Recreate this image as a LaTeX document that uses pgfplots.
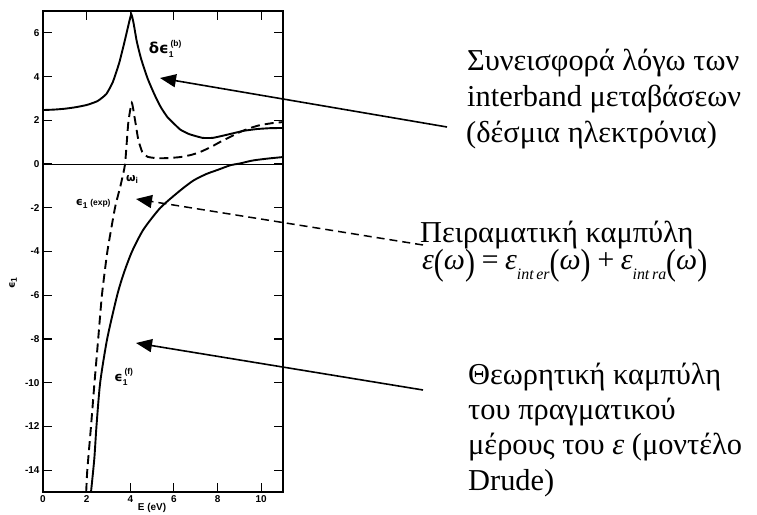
\documentclass[border=0pt]{standalone}
\usepackage{fontspec}
\setmainfont{Liberation Serif}
\newfontfamily\labfont{Liberation Sans}
\newfontfamily\symfont{DejaVu Sans}
\usepackage{graphicx}
\usepackage{pgfplots}
\pgfplotsset{compat=1.18}
\usetikzlibrary{arrows.meta}

% tall upright parentheses for the formula
\newcommand\lpar{\raisebox{-5bp}{\scalebox{1}[1.22]{\upshape(}}}
\newcommand\rpar{\raisebox{-5bp}{\scalebox{1}[1.22]{\upshape)}}}
\newcommand\sub[1]{\raisebox{-10bp}{\fontsize{16}{16}\selectfont\itshape #1}}
% lettering used inside the plot
\newcommand\lett[1]{{\symfont\bfseries #1}}
\newcommand\sm[1]{{\labfont\bfseries\fontsize{8.5}{8.5}\selectfont #1}}

\begin{document}
\begin{tikzpicture}
\path[use as bounding box] (0,0) rectangle (757bp,515bp);
\begin{axis}[
  at={(43bp,23bp)}, anchor=south west,
  scale only axis, width=240bp, height=481bp,
  xmin=0, xmax=11, ymin=-15, ymax=7,
  xtick={0,2,...,10}, ytick={-14,-12,...,6},
  xticklabels={0,2,4,6,8,10},
  yticklabels={-14,-12,-10,-8,-6,-4,-2,0,2,4,6},
  tick align=inside, major tick length=9bp,
  axis line style={line width=1.3bp},
  every tick/.style={line width=1.1bp, black},
  ticklabel style={font=\labfont\fontsize{10}{10}\selectfont\bfseries},
  clip=true,
]
% zero line
\addplot [black, line width=0.8bp] coordinates {(0,0) (11,0)};

% interband contribution, delta eps_1^(b)
\addplot [black, line width=1.9bp, smooth, tension=0.3] coordinates {
 (0,2.47) (0.5,2.49) (1.0,2.53) (1.5,2.6) (2.0,2.7) (2.5,2.88) (2.9,3.2)
 (3.2,3.75) (3.5,4.65) (3.75,5.65) (3.95,6.5) (4.05,6.85) (4.15,6.45)
 (4.3,5.6) (4.5,4.8) (4.8,3.9) (5.1,3.2) (5.4,2.6) (5.7,2.15) (6.0,1.85)
 (6.3,1.57) (6.7,1.37) (7.3,1.2) (7.8,1.2) (8.6,1.38) (9.2,1.52)
 (9.8,1.6) (10.4,1.64) (11,1.65)};

% measured eps_1
\addplot [black, line width=1.9bp, dash pattern=on 9bp off 5bp, smooth, tension=0.3] coordinates {
 (1.98,-15) (2.03,-14) (2.2,-12) (2.36,-10) (2.53,-8) (2.7,-6) (2.95,-4)
 (3.3,-2) (3.55,-1) (3.76,0) (3.91,1.9) (4.07,2.8) (4.22,2.0) (4.37,1.1)
 (4.55,0.55) (4.8,0.33) (5.2,0.27) (5.7,0.27) (6.3,0.32) (6.8,0.42)
 (7.2,0.55) (7.7,0.78) (8.1,1.0) (8.6,1.25) (9.04,1.47) (9.5,1.65)
 (9.95,1.78) (10.5,1.87) (11,1.92)};

% free-electron (Drude) eps_1^(f)
\addplot [black, line width=1.9bp, smooth, tension=0.4] coordinates {
 (2.2,-15) (2.35,-13.5) (2.45,-12) (2.62,-10) (2.94,-8) (3.4,-6) (3.7,-5)
 (4.08,-4) (4.6,-3) (5.38,-2) (6.3,-1.2) (6.9,-0.75) (7.5,-0.45) (8.0,-0.27)
 (8.6,-0.05) (9.0,0.02) (9.6,0.16) (10.3,0.25) (11,0.32)};

\node[font=\fontsize{15}{15}\selectfont, inner sep=0pt] at (axis cs:5.6,5.25)
  {\lett{δϵ}\raisebox{-4bp}{\sm{1}}\hspace{-3pt}\raisebox{7bp}{\sm{(b)}}};
\node[font=\fontsize{11}{11}\selectfont, inner sep=0pt] at (axis cs:4.08,-0.7)
  {\lett{ω}\raisebox{-2bp}{\sm{i}}};
\node[font=\fontsize{11}{11}\selectfont, inner sep=0pt] at (axis cs:2.3,-1.83)
  {\lett{ϵ}\raisebox{-3bp}{\sm{1}} \sm{(exp)}};
\node[font=\fontsize{13}{13}\selectfont, inner sep=0pt] at (axis cs:3.7,-9.75)
  {\lett{ϵ}\raisebox{-4bp}{\sm{1}}\hspace{-3pt}\raisebox{7bp}{\sm{(f)}}};
\end{axis}

% axis titles
\node[font=\labfont\fontsize{10}{10}\selectfont\bfseries] at (152bp,7bp) {E (eV)};
\node[rotate=90, font=\fontsize{10}{10}\selectfont] at (13bp,232bp) {\lett{ϵ}\raisebox{-2bp}{\sm{1}}};

% annotation arrows
\draw[line width=1.6bp, -{Triangle[length=16bp, width=13bp]}] (447bp,388bp) -- (160bp,437bp);
\draw[line width=1.5bp, dash pattern=on 8bp off 5bp, -{Triangle[length=16bp, width=13bp]}] (423bp,270bp) -- (136bp,316bp);
\draw[line width=1.6bp, -{Triangle[length=16bp, width=13bp]}] (423bp,125bp) -- (136bp,172bp);

% annotation texts
\begin{scope}[every node/.style={anchor=base west, inner sep=0pt, font=\fontsize{30.5}{30.5}\selectfont}]
\node at (467bp,444bp) {Συνεισφορά λόγω των};
\node at (467bp,408bp) {interband μεταβάσεων};
\node at (466bp,372bp) {(δέσμια ηλεκτρόνια)};
\node at (420bp,272bp) {Πειραματική καμπύλη};
\node at (422bp,245bp) {\fontsize{30}{30}\selectfont\itshape ε\lpar ω\rpar\,=\,ε\sub{int\,er}\lpar ω\rpar\,+\,ε\sub{int\,ra}\lpar ω\rpar};
\node at (468bp,130bp) {Θεωρητική καμπύλη};
\node at (468bp,95bp) {του πραγματικού};
\node at (468bp,60bp) {μέρους του {\itshape ε} (μοντέλο};
\node at (468bp,25bp) {Drude)};
\end{scope}
\end{tikzpicture}
\end{document}
